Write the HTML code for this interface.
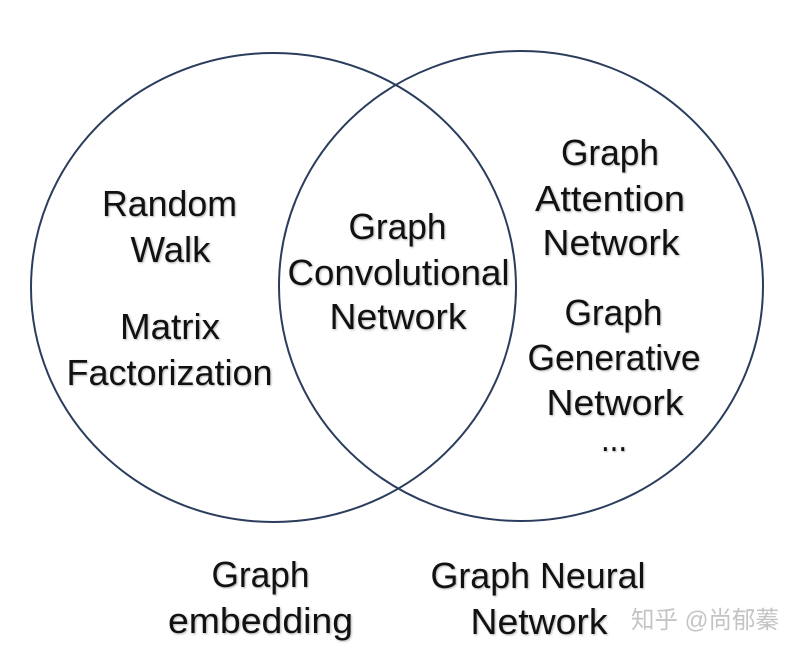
<!DOCTYPE html>
<html>
<head>
<meta charset="utf-8">
<style>
html,body{margin:0;padding:0;background:#fff;width:798px;height:652px;overflow:hidden}
svg{display:block}
text{font-family:"Liberation Sans","Noto Sans CJK SC",sans-serif;font-size:36px;fill:#111;text-anchor:middle;text-shadow:1px 1px 2px rgba(0,0,0,.3)}
</style>
</head>
<body>
<svg width="798" height="652" viewBox="0 0 798 652" xmlns="http://www.w3.org/2000/svg">
<ellipse cx="273.5" cy="287.5" rx="242.5" ry="234.5" fill="none" stroke="#2b3d5c" stroke-width="2"/>
<ellipse cx="521" cy="286" rx="242" ry="235" fill="none" stroke="#2b3d5c" stroke-width="2"/>
<g>
<text x="169.5" y="216" textLength="135" lengthAdjust="spacingAndGlyphs">Random</text>
<text x="170.5" y="262" textLength="80" lengthAdjust="spacingAndGlyphs">Walk</text>
<text x="170" y="339" textLength="100" lengthAdjust="spacingAndGlyphs">Matrix</text>
<text x="169.5" y="385" textLength="206" lengthAdjust="spacingAndGlyphs">Factorization</text>
<text x="397.5" y="239" textLength="98" lengthAdjust="spacingAndGlyphs">Graph</text>
<text x="398.5" y="285" textLength="222" lengthAdjust="spacingAndGlyphs">Convolutional</text>
<text x="398" y="329" textLength="137" lengthAdjust="spacingAndGlyphs">Network</text>
<text x="610" y="165" textLength="98" lengthAdjust="spacingAndGlyphs">Graph</text>
<text x="610" y="211" textLength="150" lengthAdjust="spacingAndGlyphs">Attention</text>
<text x="611" y="255" textLength="137" lengthAdjust="spacingAndGlyphs">Network</text>
<text x="613.5" y="325" textLength="98" lengthAdjust="spacingAndGlyphs">Graph</text>
<text x="614" y="370" textLength="173" lengthAdjust="spacingAndGlyphs">Generative</text>
<text x="615" y="415" textLength="137" lengthAdjust="spacingAndGlyphs">Network</text>
<text x="614" y="451" textLength="26" lengthAdjust="spacingAndGlyphs">...</text>
<text x="260.5" y="587" textLength="98" lengthAdjust="spacingAndGlyphs">Graph</text>
<text x="260.5" y="633" textLength="185" lengthAdjust="spacingAndGlyphs">embedding</text>
<text x="538" y="588" textLength="215" lengthAdjust="spacingAndGlyphs">Graph Neural</text>
<text x="539" y="634" textLength="137" lengthAdjust="spacingAndGlyphs">Network</text>
<text x="705" y="628" style="font-size:24px;fill:#c4c4c4;text-shadow:none" textLength="148" lengthAdjust="spacingAndGlyphs">知乎 @尚郁蓁</text>
</g>
</svg>
</body>
</html>
